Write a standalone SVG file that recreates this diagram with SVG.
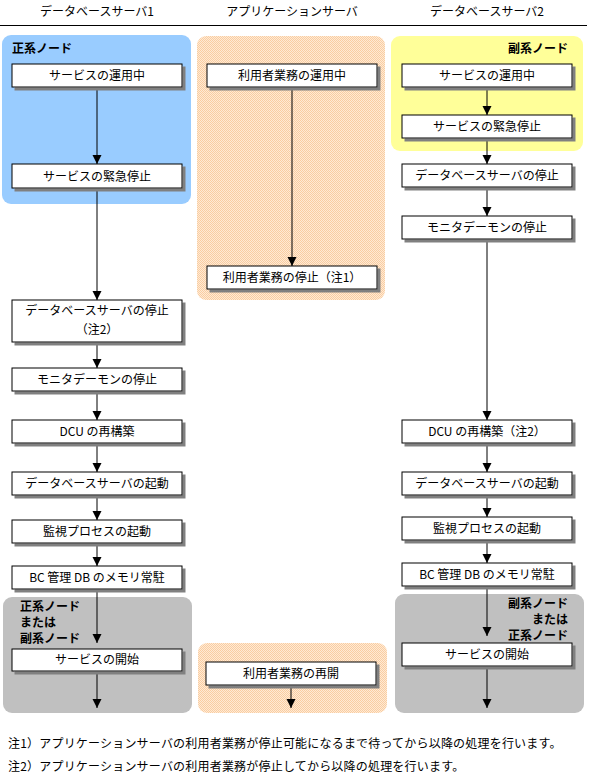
<svg xmlns="http://www.w3.org/2000/svg" width="589" height="778" viewBox="0 0 589 778">
<defs>
<pattern id="hatch" width="2" height="2" patternUnits="userSpaceOnUse">
<rect width="2" height="2" fill="#FFEAD4"/>
<rect x="0" y="0" width="1" height="1" fill="#F9CDA2"/>
<rect x="1" y="1" width="1" height="1" fill="#F9CDA2"/>
</pattern>
<marker id="ah" markerUnits="userSpaceOnUse" markerWidth="10" markerHeight="10" viewBox="0 0 10 10" refX="9" refY="4.5" orient="auto">
<path d="M0,0 L9,4.5 L0,9 z" fill="#000"/>
</marker>
<filter id="sh" x="-5%" y="-20%" width="115%" height="150%">
<feOffset dx="3" dy="3" in="SourceAlpha" result="o"/>
<feFlood flood-color="#808080"/>
<feComposite in2="o" operator="in"/>
<feMerge><feMergeNode/><feMergeNode in="SourceGraphic"/></feMerge>
</filter>
</defs>
<style>
text{font-family:"Noto Sans CJK JP","Liberation Sans",sans-serif;font-size:12px;fill:#000}
.t{text-anchor:middle}
.b{font-weight:bold}
.r{text-anchor:end}
.n{letter-spacing:0.2px}
.box{fill:#fff;stroke:#000;stroke-width:1;filter:url(#sh)}
.c{stroke:#000;stroke-width:1;fill:none;marker-end:url(#ah)}
</style>
<rect width="589" height="778" fill="#fff"/>

<g id="headers">
<text class="t" x="97" y="16">データベースサーバ1</text>
<text class="t" x="292" y="16">アプリケーションサーバ</text>
<text class="t" x="487" y="16">データベースサーバ2</text>
<line x1="0" y1="25.5" x2="587" y2="25.5" stroke="#000" stroke-width="1"/>
</g>

<g id="regions">
<rect x="2" y="35" width="189" height="169" rx="9" fill="#99CCFF"/>
<rect x="197" y="36" width="188" height="264" rx="9" fill="url(#hatch)"/>
<rect x="391" y="36" width="192" height="115" rx="9" fill="#FFFF99"/>
<rect x="3" y="597" width="189" height="116" rx="9" fill="#C0C0C0"/>
<rect x="198" y="643" width="189" height="70" rx="9" fill="url(#hatch)"/>
<rect x="395" y="594" width="189" height="119" rx="9" fill="#C0C0C0"/>
<text class="b" x="12" y="53">正系ノード</text>
<text class="b r" x="568" y="53">副系ノード</text>
<text class="b" x="20" y="611">正系ノード</text>
<text class="b" x="20" y="627">または</text>
<text class="b" x="20" y="643">副系ノード</text>
<text class="b r" x="568" y="608">副系ノード</text>
<text class="b r" x="568" y="624">または</text>
<text class="b r" x="568" y="640">正系ノード</text>
</g>

<g id="connectors">
<line class="c" x1="97" y1="87" x2="97" y2="164"/>
<line class="c" x1="97" y1="188" x2="97" y2="300"/>
<line class="c" x1="97" y1="342" x2="97" y2="368"/>
<line class="c" x1="97" y1="391" x2="97" y2="420"/>
<line class="c" x1="97" y1="443" x2="97" y2="472"/>
<line class="c" x1="97" y1="495" x2="97" y2="520"/>
<line class="c" x1="97" y1="543" x2="97" y2="566"/>
<line class="c" x1="97" y1="589" x2="97" y2="643"/>
<line class="c" x1="97" y1="671" x2="97" y2="708"/>
<line class="c" x1="292" y1="87" x2="292" y2="266"/>
<line class="c" x1="291" y1="685" x2="291" y2="708"/>
<line class="c" x1="487" y1="87" x2="487" y2="115"/>
<line class="c" x1="487" y1="138" x2="487" y2="164"/>
<line class="c" x1="487" y1="187" x2="487" y2="216"/>
<line class="c" x1="487" y1="239" x2="487" y2="420"/>
<line class="c" x1="487" y1="443" x2="487" y2="472"/>
<line class="c" x1="487" y1="495" x2="487" y2="517"/>
<line class="c" x1="487" y1="540" x2="487" y2="563"/>
<line class="c" x1="487" y1="586" x2="487" y2="636"/>
<line class="c" x1="487" y1="666" x2="487" y2="708"/>
</g>

<g id="L1"><rect class="box" x="12" y="64" width="170" height="23"/><text class="t" x="97" y="80">サービスの運用中</text></g>
<g id="L2"><rect class="box" x="12" y="164" width="170" height="24"/><text class="t" x="97" y="181">サービスの緊急停止</text></g>
<g id="L3"><rect class="box" x="12" y="300" width="170" height="42"/><text class="t" x="97" y="315">データベースサーバの停止</text><text class="t" x="97" y="334">（注2）</text></g>
<g id="L4"><rect class="box" x="12" y="368" width="170" height="23"/><text class="t" x="97" y="384">モニタデーモンの停止</text></g>
<g id="L5"><rect class="box" x="12" y="420" width="170" height="23"/><text class="t" x="97" y="436">DCU の再構築</text></g>
<g id="L6"><rect class="box" x="12" y="472" width="170" height="23"/><text class="t" x="97" y="488">データベースサーバの起動</text></g>
<g id="L7"><rect class="box" x="12" y="520" width="170" height="23"/><text class="t" x="97" y="536">監視プロセスの起動</text></g>
<g id="L8"><rect class="box" x="12" y="566" width="170" height="23"/><text class="t" x="97" y="582">BC 管理 DB のメモリ常駐</text></g>
<g id="L9"><rect class="box" x="12" y="649" width="170" height="22"/><text class="t" x="97" y="664">サービスの開始</text></g>

<g id="M1"><rect class="box" x="207" y="64" width="170" height="23"/><text class="t" x="292" y="80">利用者業務の運用中</text></g>
<g id="M2"><rect class="box" x="207" y="266" width="170" height="23"/><text class="t" x="292" y="282">利用者業務の停止（注1）</text></g>
<g id="M3"><rect class="box" x="206" y="662" width="170" height="23"/><text class="t" x="291" y="678">利用者業務の再開</text></g>

<g id="R1"><rect class="box" x="402" y="64" width="170" height="23"/><text class="t" x="487" y="80">サービスの運用中</text></g>
<g id="R2"><rect class="box" x="402" y="115" width="170" height="23"/><text class="t" x="487" y="131">サービスの緊急停止</text></g>
<g id="R3"><rect class="box" x="402" y="164" width="170" height="23"/><text class="t" x="487" y="180">データベースサーバの停止</text></g>
<g id="R4"><rect class="box" x="402" y="216" width="170" height="23"/><text class="t" x="487" y="232">モニタデーモンの停止</text></g>
<g id="R5"><rect class="box" x="402" y="420" width="170" height="23"/><text class="t" x="487" y="436">DCU の再構築（注2）</text></g>
<g id="R6"><rect class="box" x="402" y="472" width="170" height="23"/><text class="t" x="487" y="488">データベースサーバの起動</text></g>
<g id="R7"><rect class="box" x="402" y="517" width="170" height="23"/><text class="t" x="487" y="533">監視プロセスの起動</text></g>
<g id="R8"><rect class="box" x="402" y="563" width="170" height="23"/><text class="t" x="487" y="579">BC 管理 DB のメモリ常駐</text></g>
<g id="R9"><rect class="box" x="402" y="643" width="170" height="23"/><text class="t" x="487" y="659">サービスの開始</text></g>

<g id="notes">
<text class="n" x="8" y="748">注1）アプリケーションサーバの利用者業務が停止可能になるまで待ってから以降の処理を行います。</text>
<text class="n" x="8" y="771">注2）アプリケーションサーバの利用者業務が停止してから以降の処理を行います。</text>
</g>
</svg>
